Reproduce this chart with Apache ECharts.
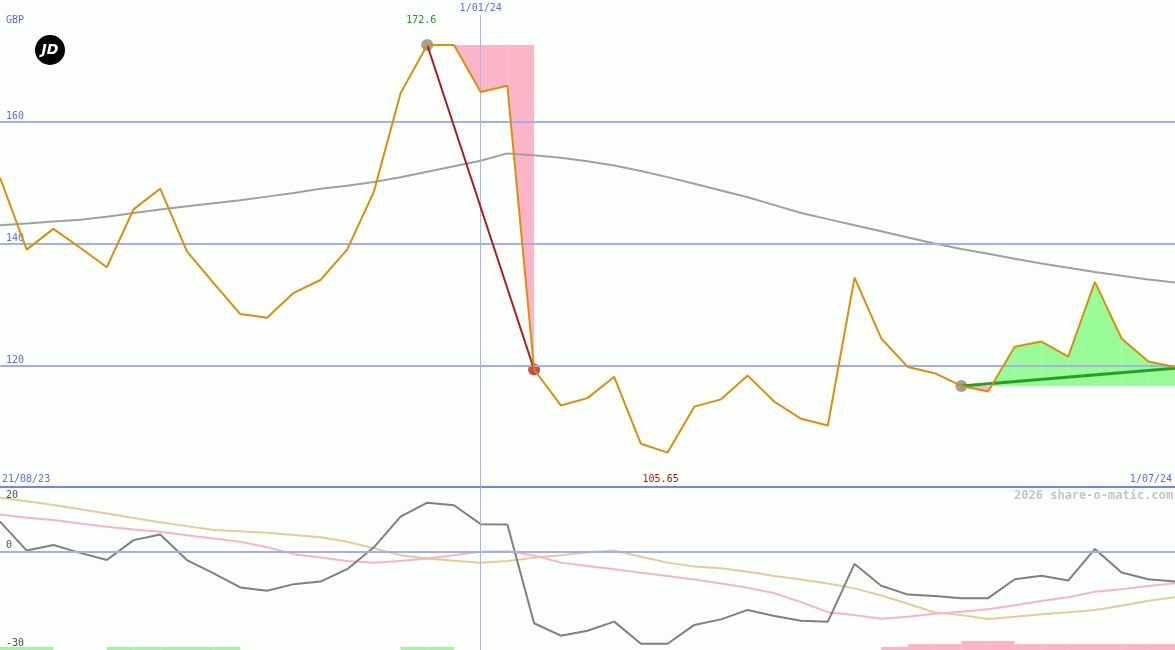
<!DOCTYPE html>
<html><head><meta charset="utf-8">
<script src="https://cdn.jsdelivr.net/npm/echarts@6/dist/echarts.min.js"></script>
<style>html,body{margin:0;padding:0;background:#fcfefc;}#c{width:1175px;height:650px;}</style>
</head><body><div id="c"></div>
<script>
// ---------- data ----------
const dates = ['28/08/23','4/09/23','11/09/23','18/09/23','25/09/23','2/10/23','9/10/23','16/10/23','23/10/23','30/10/23',
  '6/11/23','13/11/23','20/11/23','27/11/23','4/12/23','11/12/23','18/12/23','25/12/23','1/01/24','8/01/24',
  '15/01/24','22/01/24','29/01/24','5/02/24','12/02/24','19/02/24','26/02/24','4/03/24','11/03/24','18/03/24',
  '25/03/24','1/04/24','8/04/24','15/04/24','22/04/24','29/04/24','6/05/24','13/05/24','20/05/24','27/05/24',
  '3/06/24','10/06/24','17/06/24','24/06/24','1/07/24'];
const price = [150.8,139.0,142.4,139.3,136.1,145.6,149.0,138.7,133.5,128.4,
  127.8,131.9,134.0,139.0,148.5,164.7,172.6,172.6,164.9,165.9,
  119.3,113.4,114.6,118.1,107.1,105.65,113.2,114.4,118.3,114.0,
  111.2,110.1,134.4,124.4,119.7,118.7,116.6,115.7,123.05,123.9,
  121.4,133.7,124.4,120.6,119.7];
const movingAvg = [143.0,143.3,143.6,143.9,144.4,145.0,145.6,146.1,146.6,147.1,
  147.7,148.3,149.0,149.5,150.1,150.9,151.8,152.7,153.6,154.8,
  154.5,154.1,153.5,152.8,151.9,150.9,149.8,148.7,147.6,146.3,
  145.0,144.0,143.0,142.0,141.0,140.0,139.1,138.3,137.5,136.7,
  136.0,135.3,134.7,134.1,133.6];
const momentum = [9.4,0.5,2.2,-0.2,-2.4,3.7,5.4,-2.4,-6.5,-10.8,
  -11.8,-9.8,-9.0,-5.2,1.5,10.9,15.2,14.4,8.6,8.5,
  -21.8,-25.6,-24.1,-21.3,-28.1,-28.1,-22.3,-20.6,-17.7,-19.6,
  -21.0,-21.3,-3.6,-10.3,-13.0,-13.4,-14.1,-14.1,-8.3,-7.2,
  -8.7,1.0,-6.2,-8.3,-9.0];
const momentumFast = [11.6,10.6,9.9,8.8,7.8,7.0,6.3,5.2,4.2,3.2,
  1.5,-0.6,-1.6,-2.7,-3.2,-2.7,-1.9,-0.9,0.1,0.3,
  -1.0,-3.2,-4.2,-5.2,-6.3,-7.3,-8.4,-9.6,-10.9,-12.6,
  -15.3,-18.4,-19.3,-20.4,-19.8,-18.9,-18.3,-17.5,-16.3,-15.0,
  -13.8,-12.1,-11.4,-10.4,-9.5];
const momentumSlow = [16.7,15.6,14.5,13.2,11.9,10.5,9.2,8.0,6.8,6.4,
  6.0,5.3,4.6,3.2,1.2,-0.9,-1.9,-2.6,-3.2,-2.7,
  -1.7,-0.9,0.0,0.5,-1.4,-3.2,-4.4,-4.9,-6.0,-7.3,
  -8.4,-9.6,-11.1,-13.3,-15.8,-18.5,-19.3,-20.5,-19.8,-19.0,
  -18.4,-17.7,-16.4,-14.9,-13.8];
// signal strength for each week-to-week segment (+ buy / - sell)
const signal = [1,1,0,0,1,1,1,1,1,0,0,0,0,0,0,1,1,0,0,0,0,0,0,0,0,0,0,0,0,0,0,0,0,-1,-2,-2,-3,-3,-2,-2,-2,-2,-2,-2];
const mainTicks = [120,140,160];
const lowerTicks = [20,0,-30];
const peakIdx = 16, dropIdx = 20, trendIdx = 36, trendEndValue = 119.5;
const rangeStartLabel = '21/08/23';
const markDate = '1/01/24';
const currency = 'GBP';
const watermark = '2026 share-o-matic.com';

// ---------- styles ----------
const MONO = 'DejaVu Sans Mono';
const BLUE_TEXT = '#5b6cf2', GRID_BLUE = '#a3aef2', SEP_BLUE = '#7282ee', VLINE = '#aab2e6';
const ORANGE = '#d8900c', MA_GREY = '#a0a0a0', DARK_RED = '#a51d1d', GREEN_LINE = '#23a023';
const GREEN_FILL = '#98fb98', PINK_FILL = '#fbb4c8', DOT_GREY = '#888888', DOT_RED = '#b22222';
const LOW_GREY = '#7f7f7f', LOW_PINK = '#f9b3c8', LOW_TAN = '#e3cc99', LOW_TEXT = '#505050';
const BAR_UNIT_PX = 3;

const minIdx = price.indexOf(Math.min(...price));
const last = dates.length - 1;
const lowerMax = lowerTicks[0];

function fillRender(start, end, level) {
  return function (params, api) {
    const children = [];
    for (let i = start; i < end; i++) {
      const a = api.coord([i, price[i]]), b = api.coord([i + 1, price[i + 1]]);
      const la = api.coord([i, level]), lb = api.coord([i + 1, level]);
      const d0 = price[i] - level, d1 = price[i + 1] - level;
      if ((d0 >= 0 && d1 >= 0) || (d0 <= 0 && d1 <= 0)) {
        const up = d0 + d1 >= 0;
        children.push({type: 'polygon', shape: {points: [la, a, b, lb]}, style: {fill: up ? GREEN_FILL : PINK_FILL}});
      } else {
        const t = d0 / (d0 - d1);
        const c = [la[0] + (lb[0] - la[0]) * t, la[1] + (lb[1] - la[1]) * t];
        children.push({type: 'polygon', shape: {points: [la, a, c]}, style: {fill: d0 > 0 ? GREEN_FILL : PINK_FILL}});
        children.push({type: 'polygon', shape: {points: [c, b, lb]}, style: {fill: d1 > 0 ? GREEN_FILL : PINK_FILL}});
      }
    }
    return {type: 'group', children};
  };
}

const chart = echarts.init(document.getElementById('c'));
const option = {
  animation: false,
  backgroundColor: '#fcfefc',
  grid: [
    {left: 0, right: 0, top: 0, height: 487, containLabel: false, outerBoundsMode: 'none'},
    {left: 0, right: 0, top: 487, height: 163, containLabel: false, outerBoundsMode: 'none'}
  ],
  xAxis: [
    {type: 'category', gridIndex: 0, data: dates, boundaryGap: false,
      axisLine: {show: false}, axisTick: {show: false}, splitLine: {show: false},
      axisLabel: {inside: true, interval: 0, margin: 3, color: BLUE_TEXT, fontFamily: MONO, fontSize: 10,
        alignMinLabel: 'left', alignMaxLabel: 'right', padding: [0, 3, 0, 2],
        formatter: (v, i) => i === 0 ? rangeStartLabel : (i === last ? v : '')}},
    {type: 'category', gridIndex: 1, data: dates, boundaryGap: false, show: false}
  ],
  yAxis: [
    {type: 'value', gridIndex: 0, min: 100, max: 180, interval: 20,
      splitLine: {show: false}, axisLine: {show: false}, axisTick: {show: false},
      axisLabel: {inside: true, margin: 6, color: BLUE_TEXT, fontFamily: MONO, fontSize: 10,
        verticalAlign: 'bottom', showMinLabel: false, showMaxLabel: false}},
    {type: 'value', gridIndex: 1, min: -30, max: 20, interval: 10,
      splitLine: {show: false}, axisLine: {show: false}, axisTick: {show: false},
      axisLabel: {inside: true, margin: 6, color: LOW_TEXT, fontFamily: MONO, fontSize: 10,
        verticalAlign: 'bottom', padding: [0, 0, 2, 0], showMaxLabel: false,
        formatter: v => (lowerTicks.includes(v) && v !== lowerMax) ? String(v) : ''}}
  ],
  graphic: [
    {type: 'text', left: 6, top: 15, style: {text: currency, fill: BLUE_TEXT, font: '10px ' + MONO}},
    {type: 'circle', shape: {cx: 50, cy: 50, r: 15}, style: {fill: '#000'}},
    {type: 'text', x: 50, y: 50, style: {text: 'JD', fill: '#fff', font: 'italic bold 14px "DejaVu Sans"', align: 'center', verticalAlign: 'middle'}},
    {type: 'text', right: 2, top: 490, style: {text: watermark, fill: '#c4c4c4', font: 'bold 12px ' + MONO}}
  ],
  series: [
    // main gridlines + date marker
    {type: 'line', xAxisIndex: 0, yAxisIndex: 0, data: price, silent: true, symbol: 'none', z: 0,
      lineStyle: {opacity: 0},
      markLine: {silent: true, symbol: ['none', 'none'], animation: false,
        label: {show: false}, lineStyle: {color: GRID_BLUE, width: 2, type: 'solid'},
        data: [
          ...mainTicks.map(v => ({yAxis: v})),
          [{coord: [markDate, 177.5], lineStyle: {color: VLINE, width: 1, type: 'solid'},
            label: {show: true, position: 'start', formatter: markDate, color: BLUE_TEXT, fontFamily: MONO, fontSize: 10, distance: 2}},
           {coord: [markDate, 100]}]
        ]}},
    // fills
    {type: 'custom', xAxisIndex: 0, yAxisIndex: 0, z: 1, silent: true,
      data: [[peakIdx, price[peakIdx]]], renderItem: fillRender(peakIdx, dropIdx, price[peakIdx])},
    {type: 'custom', xAxisIndex: 0, yAxisIndex: 0, z: 1, silent: true,
      data: [[trendIdx, price[trendIdx]]], renderItem: fillRender(trendIdx, last, price[trendIdx])},
    // moving average
    {type: 'line', xAxisIndex: 0, yAxisIndex: 0, data: movingAvg, symbol: 'none', z: 2,
      lineStyle: {color: MA_GREY, width: 2}},
    // marker dots + connecting lines
    {type: 'scatter', xAxisIndex: 0, yAxisIndex: 0, symbolSize: 12, z: 3,
      data: [
        {value: [peakIdx, price[peakIdx]], itemStyle: {color: DOT_GREY}},
        {value: [trendIdx, price[trendIdx]], itemStyle: {color: DOT_GREY}},
        {value: [dropIdx, price[dropIdx]], itemStyle: {color: DOT_RED}}
      ],
      markLine: {silent: true, symbol: ['none', 'none'], label: {show: false},
        data: [
          [{coord: [dates[peakIdx], price[peakIdx]], lineStyle: {color: DARK_RED, width: 2, type: 'solid'}},
           {coord: [dates[dropIdx], price[dropIdx]]}],
          [{coord: [dates[trendIdx], price[trendIdx]], lineStyle: {color: GREEN_LINE, width: 3, type: 'solid'}},
           {coord: [dates[last], trendEndValue]}]
        ]}},
    // price
    {type: 'line', xAxisIndex: 0, yAxisIndex: 0, data: price, symbol: 'none', z: 5,
      lineStyle: {color: ORANGE, width: 2},
      markPoint: {symbol: 'circle', symbolSize: 1, itemStyle: {color: 'rgba(0,0,0,0)'}, silent: true,
        data: [
          {coord: [dates[peakIdx], price[peakIdx]], value: price[peakIdx],
            label: {show: true, position: 'inside', offset: [-6, -25], color: '#229922', fontFamily: MONO, fontSize: 10, formatter: p => String(p.value)}},
          {coord: [dates[minIdx], price[minIdx]], value: price[minIdx],
            label: {show: true, position: 'inside', offset: [-7, 27], color: '#a02020', fontFamily: MONO, fontSize: 10, formatter: p => String(p.value)}}
        ]}},
    // lower panel lines
    {type: 'line', xAxisIndex: 1, yAxisIndex: 1, data: momentum, silent: true, symbol: 'none', z: 0,
      lineStyle: {opacity: 0},
      markLine: {silent: true, symbol: ['none', 'none'], label: {show: false},
        data: [
          {yAxis: lowerMax, lineStyle: {color: SEP_BLUE, width: 2, type: 'solid'},
            label: {show: true, position: 'insideStartBottom', formatter: String(lowerMax), color: LOW_TEXT,
              fontFamily: MONO, fontSize: 10, distance: [6, 3]}},
          {yAxis: 0, lineStyle: {color: GRID_BLUE, width: 2, type: 'solid'}},
          [{coord: [markDate, lowerMax], lineStyle: {color: VLINE, width: 1, type: 'solid'}}, {coord: [markDate, -30]}]
        ]}},
    {type: 'line', xAxisIndex: 1, yAxisIndex: 1, data: momentumSlow, symbol: 'none', z: 1,
      lineStyle: {color: LOW_TAN, width: 2}},
    {type: 'line', xAxisIndex: 1, yAxisIndex: 1, data: momentumFast, symbol: 'none', z: 2,
      lineStyle: {color: LOW_PINK, width: 2}},
    {type: 'line', xAxisIndex: 1, yAxisIndex: 1, data: momentum, symbol: 'none', z: 3,
      lineStyle: {color: LOW_GREY, width: 2}},
    // signal bars
    {type: 'custom', xAxisIndex: 1, yAxisIndex: 1, z: 4, silent: true,
      data: signal.map((s, i) => [i, s]).filter(d => d[1] !== 0),
      renderItem: function (params, api) {
        const i = api.value(0), s = api.value(1);
        const p0 = api.coord([i, -30]), p1 = api.coord([i + 1, -30]);
        const h = Math.abs(s) * BAR_UNIT_PX;
        return {type: 'rect', shape: {x: p0[0], y: p0[1] - h, width: p1[0] - p0[0], height: h},
          style: {fill: s > 0 ? GREEN_FILL : PINK_FILL}};
      }}
  ]
};
chart.setOption(option);
</script>
</body></html>
